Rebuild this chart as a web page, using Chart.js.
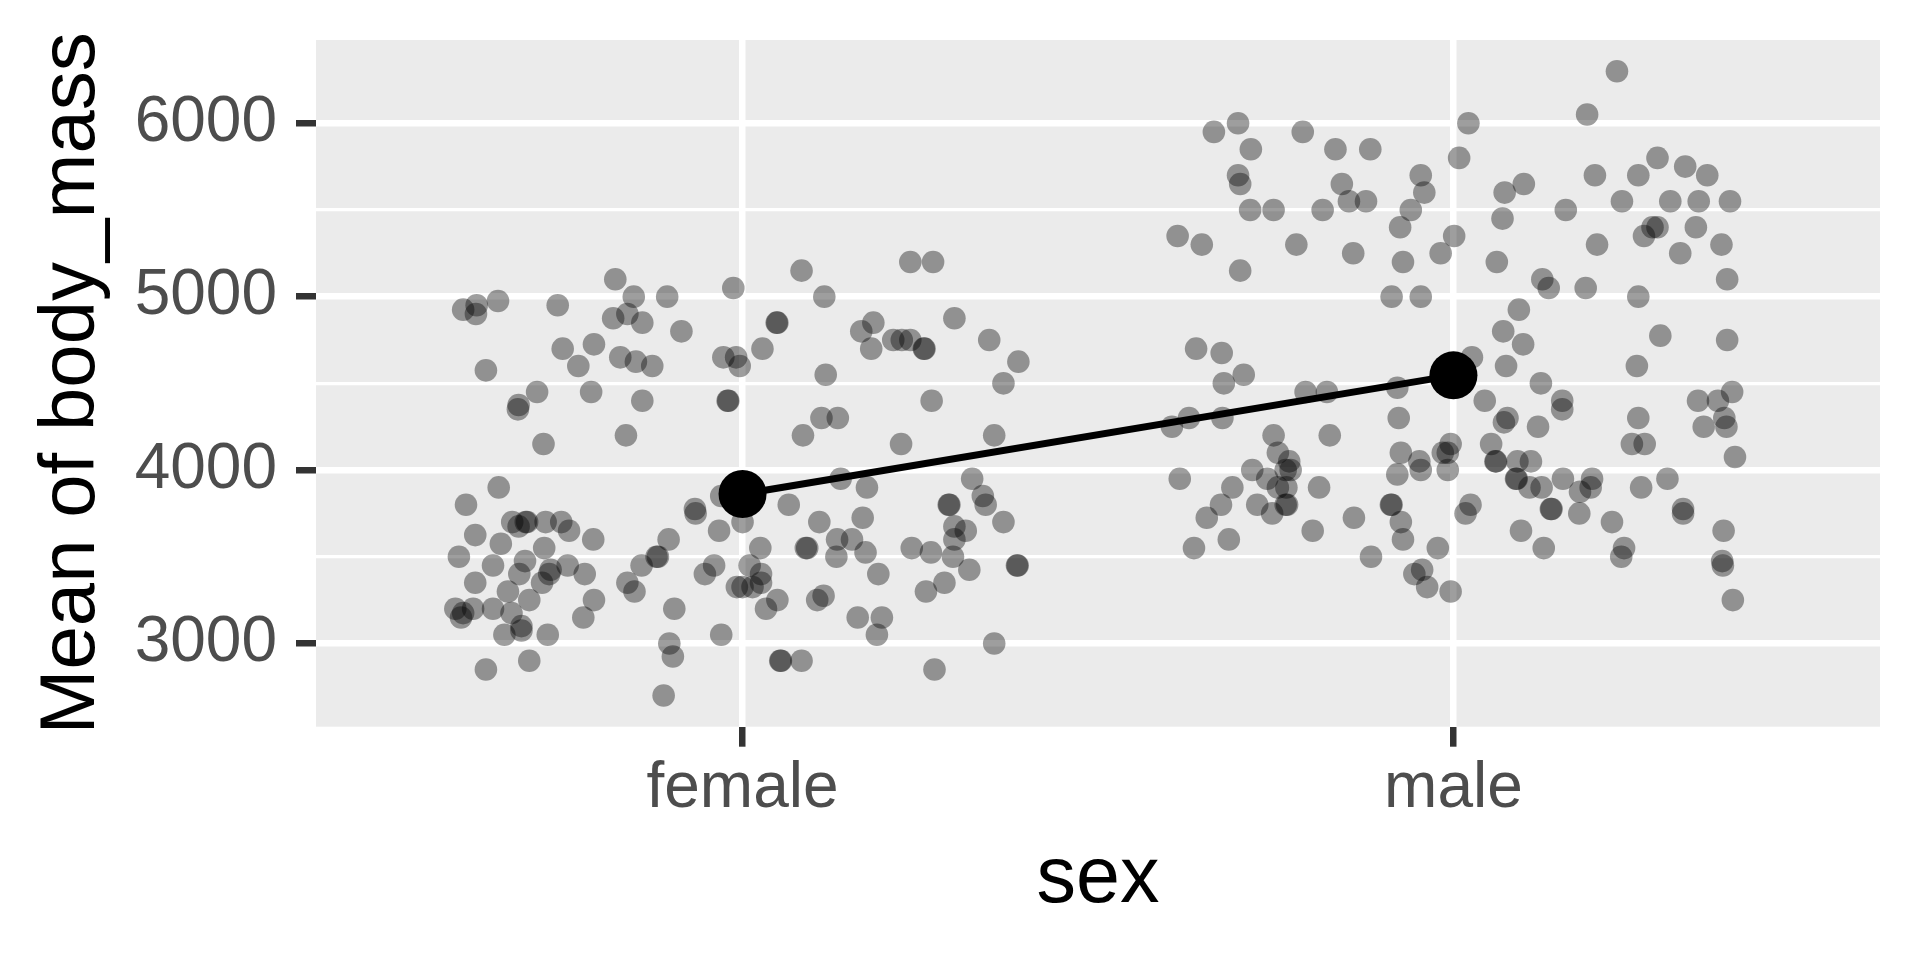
<!DOCTYPE html>
<html>
<head>
<meta charset="utf-8">
<script src="https://cdn.jsdelivr.net/npm/chart.js@4.4.1/dist/chart.umd.min.js"></script>
<style>
html, body { margin: 0; padding: 0; background: #ffffff; }
#wrap { width: 1920px; height: 960px; }
</style>
</head>
<body>
<div id="wrap"><canvas id="chart" width="1920" height="960"></canvas></div>
<script>
// categories and tick values
const sexLabels = ["female", "male"];
const yTicks = [3000, 3500, 4000, 4500, 5000, 5500, 6000];

// jittered raw observations (x position, body mass)
const femaleX = [
    0.821, 0.847, 0.894, 0.987, 0.607, 0.626, 0.625, 0.656, 0.740, 0.818,
    0.838, 0.859, 0.914, 0.747, 0.791, 0.769, 0.828, 0.850, 0.873, 0.639,
    0.973, 0.991, 0.996, 0.711, 0.685, 0.684, 0.787, 0.859, 0.980, 0.979,
    0.836, 0.720, 0.657, 0.611, 0.933, 0.934, 0.970, 0.967, 1.000, 0.624,
    0.660, 0.676, 0.685, 0.697, 0.695, 0.723, 0.745, 0.756, 0.790, 0.721,
    0.896, 0.601, 0.649, 0.694, 0.686, 0.730, 0.728, 0.718, 0.754, 0.778,
    0.624, 0.670, 0.700, 0.791, 0.776, 0.879, 0.881, 0.858, 0.838, 0.848,
    0.960, 0.947, 0.992, 1.000, 0.904, 0.596, 0.607, 0.604, 0.621, 0.649,
    0.675, 0.689, 0.689, 0.665, 0.726, 0.897, 0.902, 0.970, 0.639, 0.700,
    0.889,
    1.083, 1.236, 1.268, 1.115, 1.048, 1.049, 1.028, 1.184, 1.167, 1.181,
    1.212, 1.224, 1.236, 1.255, 1.256, 1.298, 1.347, 1.388, 1.367, 1.117,
    1.266, 1.111, 1.134, 1.085, 1.223, 1.354, 1.138, 1.175, 1.323, 1.338,
    1.342, 1.290, 1.291, 1.065, 1.108, 1.169, 1.367, 1.298, 1.314, 1.298,
    1.025, 1.089, 1.091, 1.133, 1.154, 1.173, 1.132, 1.238, 1.265, 1.296,
    1.319, 1.386, 1.387, 1.010, 1.026, 1.026, 1.014, 1.049, 1.033, 1.191,
    1.284, 1.258, 1.114, 1.105, 1.162, 1.196, 1.189, 1.053, 1.054, 1.083,
    1.270, 1.354
];
const femaleMass = [
    5100, 5000, 5000, 5050, 4925, 4950, 4900, 4975, 4950, 4875,
    4900, 4850, 4800, 4700, 4725, 4600, 4650, 4625, 4600, 4575,
    4650, 4650, 4600, 4450, 4375, 4350, 4450, 4400, 4400, 4400,
    4200, 4150, 3900, 3800, 3775, 3750, 3850, 3650, 3700, 3625,
    3575, 3700, 3675, 3700, 3700, 3700, 3700, 3650, 3600, 3550,
    3600, 3500, 3450, 3475, 3400, 3425, 3400, 3350, 3450, 3400,
    3350, 3300, 3250, 3250, 3150, 3500, 3500, 3450, 3350, 3300,
    3450, 3400, 3325, 3325, 3200, 3200, 3175, 3150, 3200, 3200,
    3175, 3100, 3075, 3050, 3050, 3000, 2925, 3050, 2850, 2900,
    2700,
    5150, 5200, 5200, 5000, 4850, 4850, 4700, 4850, 4800, 4700,
    4750, 4750, 4750, 4700, 4700, 4875, 4750, 4625, 4500, 4550,
    4400, 4300, 4300, 4200, 4150, 4200, 3950, 3900, 3950, 3850,
    3800, 3800, 3800, 3800, 3700, 3725, 3700, 3675, 3650, 3600,
    3550, 3550, 3550, 3600, 3600, 3525, 3500, 3550, 3525, 3500,
    3425, 3450, 3450, 3450, 3400, 3350, 3325, 3250, 3200, 3400,
    3350, 3300, 3275, 3250, 3150, 3150, 3050, 2900, 2900, 2900,
    2850, 3000
];
const maleX = [
    1.663, 1.697, 1.715, 1.788, 1.834, 1.883, 1.697, 1.700, 1.843, 1.853,
    1.877, 1.714, 1.747, 1.816, 1.954, 1.959, 1.940, 1.925, 1.612, 1.646,
    1.779, 1.859, 1.929, 1.982, 1.700, 1.913, 1.954,
    1.638, 1.674, 1.705, 1.677, 1.792, 1.822, 1.921, 1.604, 1.628, 1.675,
    1.923, 1.747, 1.826, 1.753, 1.769, 1.764, 1.771, 1.738, 1.753, 1.765,
    1.764, 1.766, 1.745, 1.724, 1.717, 1.615, 1.689, 1.673, 1.653, 1.684,
    1.635, 1.811, 1.802, 1.860, 1.884, 1.926, 1.952, 1.954, 1.921, 1.985,
    1.996, 1.992, 1.992, 1.913, 1.912, 1.926, 1.929, 1.978, 1.945, 1.956,
    1.963, 1.996,
    2.230, 2.188, 2.021, 2.008, 2.001, 2.072, 2.099, 2.069, 2.158, 2.199,
    2.260, 2.287, 2.326, 2.357, 2.237, 2.305, 2.345, 2.389, 2.280, 2.287,
    2.268, 2.341, 2.202, 2.377, 2.319, 2.061, 2.125, 2.134, 2.186, 2.260,
    2.385, 2.092, 2.070, 2.098, 2.074, 2.026, 2.258, 2.291, 2.385, 2.123,
    2.044, 2.153, 2.153, 2.076, 2.071, 2.119, 2.260, 2.251, 2.269, 2.344,
    2.372, 2.392, 2.381, 2.384, 2.352, 2.396, 2.053, 2.059, 2.060, 2.090,
    2.109, 2.088, 2.089, 2.107, 2.124, 2.154, 2.195, 2.193, 2.178, 2.137,
    2.138, 2.177, 2.223, 2.264, 2.301, 2.323, 2.323, 2.024, 2.017, 2.095,
    2.127, 2.240, 2.236, 2.380, 2.378, 2.379, 2.393
];
const maleMass = [
    5950, 6000, 5850, 5950, 5850, 5850, 5700, 5650, 5650, 5550,
    5550, 5500, 5500, 5500, 5700, 5600, 5500, 5400, 5350, 5300,
    5300, 5250, 5200, 5250, 5150, 5000, 5000,
    4700, 4675, 4550, 4500, 4450, 4450, 4475, 4250, 4300, 4300,
    4300, 4200, 4200, 4100, 4050, 4000, 4000, 3950, 3900, 3900,
    3800, 3800, 3750, 3800, 4000, 3950, 3900, 3800, 3725, 3600,
    3550, 3900, 3650, 3725, 3500, 4100, 4050, 4000, 3975, 4100,
    4150, 4100, 4000, 3800, 3800, 3700, 3600, 3550, 3400, 3425,
    3325, 3300,
    6300, 6050, 6000, 5800, 5350, 5600, 5650, 5450, 5500, 5700,
    5700, 5800, 5750, 5700, 5550, 5550, 5550, 5550, 5400, 5400,
    5350, 5400, 5300, 5300, 5250, 5200, 5100, 5050, 5050, 5000,
    5100, 4925, 4800, 4725, 4600, 4650, 4600, 4775, 4750, 4500,
    4400, 4400, 4350, 4300, 4275, 4250, 4300, 4150, 4150, 4400,
    4400, 4450, 4300, 4250, 4250, 4075, 4150, 4050, 4050, 4050,
    4050, 3950, 3950, 3900, 3900, 3950, 3950, 3900, 3875, 3775,
    3775, 3750, 3700, 3900, 3950, 3775, 3750, 3800, 3750, 3650,
    3550, 3550, 3500, 3650, 3475, 3450, 3250
];

// group means
const meanMass = [3862, 4546];

const FONT = "'Liberation Sans', Arial, Helvetica, sans-serif";

const panelBg = {
    id: "panelBg",
    beforeDraw(chart) {
        const a = chart.chartArea;
        const ctx = chart.ctx;
        ctx.save();
        ctx.fillStyle = "#ffffff";
        ctx.fillRect(0, 0, chart.width, chart.height);
        ctx.fillStyle = "#EBEBEB";
        ctx.fillRect(a.left, a.top, a.right - a.left, a.bottom - a.top);
        ctx.restore();
    }
};

const jitterPoints = femaleX.map((x, i) => ({ x: x, y: femaleMass[i] }))
    .concat(maleX.map((x, i) => ({ x: x, y: maleMass[i] })));

const meanPoints = meanMass.map((m, i) => ({ x: i + 1, y: m }));

const isMajor = v => v % 1000 === 0;

// keep the panel exactly where the reference has it
function noPad(axis) {
    axis.paddingTop = 0;
    axis.paddingBottom = 0;
    axis.paddingLeft = 0;
    axis.paddingRight = 0;
}

new Chart(document.getElementById("chart"), {
    type: "scatter",
    data: {
        datasets: [
            {
                data: meanPoints,
                showLine: true,
                borderColor: "#000000",
                borderWidth: 7,
                pointRadius: 24,
                pointBackgroundColor: "#000000",
                pointBorderWidth: 0,
                order: 0
            },
            {
                data: jitterPoints,
                pointRadius: 11.3,
                pointBackgroundColor: "rgba(0,0,0,0.38)",
                pointBorderWidth: 0,
                order: 1
            }
        ]
    },
    options: {
        responsive: false,
        animation: false,
        devicePixelRatio: 1,
        layout: { padding: { top: 40, right: 40, left: 0, bottom: 0 } },
        plugins: {
            legend: { display: false },
            tooltip: { enabled: false }
        },
        scales: {
            x: {
                type: "linear",
                min: 0.4,
                max: 2.6,
                afterBuildTicks: axis => { axis.ticks = sexLabels.map((s, i) => ({ value: i + 1 })); },
                afterFit: axis => { axis.height = 233.3; noPad(axis); },
                border: { display: false },
                grid: {
                    color: "#ffffff",
                    lineWidth: 6.5,
                    tickColor: "#333333",
                    tickWidth: 6.5,
                    tickLength: 20
                },
                ticks: {
                    color: "#4D4D4D",
                    font: { family: FONT, size: 64 },
                    padding: 4,
                    maxRotation: 0,
                    autoSkip: false,
                    callback: v => sexLabels[Math.round(v) - 1]
                },
                title: {
                    display: true,
                    text: "sex",
                    color: "#000000",
                    font: { family: FONT, size: 79 },
                    padding: { top: 0, bottom: 32 }
                }
            },
            y: {
                type: "linear",
                min: 2520,
                max: 6480,
                afterBuildTicks: axis => { axis.ticks = yTicks.map(v => ({ value: v })); },
                afterFit: axis => { axis.width = 316; noPad(axis); },
                border: { display: false },
                grid: {
                    color: "#ffffff",
                    lineWidth: c => (c.tick && isMajor(c.tick.value)) ? 6.5 : 3.2,
                    tickColor: c => (c.tick && isMajor(c.tick.value)) ? "#333333" : "rgba(0,0,0,0)",
                    tickWidth: 6.5,
                    tickLength: 20
                },
                ticks: {
                    color: "#4D4D4D",
                    font: { family: FONT, size: 64 },
                    padding: 19,
                    autoSkip: false,
                    callback: v => isMajor(v) ? String(v) : ""
                },
                title: {
                    display: true,
                    text: "Mean of body_mass",
                    color: "#000000",
                    font: { family: FONT, size: 78 },
                    padding: { top: 26, bottom: 0 }
                }
            }
        }
    },
    plugins: [panelBg]
});
</script>
</body>
</html>
